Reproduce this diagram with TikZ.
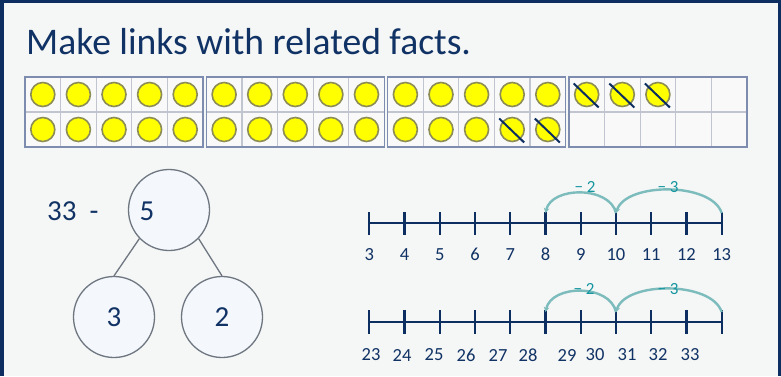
\documentclass[tikz,border=0pt]{standalone}
\usepackage{fontspec}
\setmainfont{Carlito}
\usetikzlibrary{arrows.meta}
\definecolor{navy}{RGB}{12,46,96}
\definecolor{txt}{RGB}{16,50,100}
\definecolor{bg}{RGB}{245,246,246}
\definecolor{framec}{RGB}{125,140,175}
\definecolor{gridc}{RGB}{192,197,207}
\definecolor{cellbg}{RGB}{249,249,249}
\definecolor{counterc}{RGB}{255,255,0}
\definecolor{counteredge}{RGB}{140,140,85}
\definecolor{arcc}{RGB}{125,188,188}
\definecolor{arclab}{RGB}{20,150,160}
\definecolor{pwedge}{RGB}{110,118,128}
\definecolor{pwfill}{RGB}{244,247,252}
\tikzset{
  counterstyle/.style={fill=counterc, draw=counteredge, line width=1.6pt},
  crossline/.style={draw=navy, line width=2pt},
  pw/.style={circle, draw=pwedge, fill=pwfill, line width=1.3pt, minimum size=81pt, inner sep=0pt, text=txt, font=\fontsize{29}{32}\selectfont},
  num/.style={text=txt, font=\fontsize{29}{32}\selectfont, inner sep=0pt},
  nl/.style={draw=navy, line width=2.2pt},
  nllab/.style={text=txt, font=\fontsize{18.5}{20}\selectfont, inner sep=0pt},
  jump/.style={draw=arcc, line width=2.4pt, -{Stealth[length=5pt,width=5.5pt]}},
  jumplab/.style={text=arclab, font=\fontsize{17}{19}\selectfont, inner sep=0pt},
}
\newcommand\tfcounter[2]{\filldraw[counterstyle] (#1,#2) circle (12);}
\newcommand\tfcrossed[2]{\filldraw[counterstyle] (#1,#2) circle (12);\draw[crossline] (#1-13,#2-11) -- (#1+12,#2+13);}
\begin{document}
\begin{tikzpicture}[x=1pt,y=-1pt]
\fill[bg] (0,0) rectangle (781,376);
\useasboundingbox (0,0) rectangle (781,376);
\fill[navy] (0,0) rectangle (781,3);
\fill[navy] (0,0) rectangle (3.5,376);
\fill[navy] (777.5,0) rectangle (781,376);

\node[anchor=base west, text=txt, font=\fontsize{37.6}{40}\selectfont, inner sep=0pt] (title) at (26,54) {Make links with related facts.};

% ten frames
\foreach \f in {0,1,2,3} {
  \pgfmathsetmacro\xo{25+181.3*\f}
  \fill[cellbg] (\xo,77) rectangle (\xo+178,147);
  \foreach \c in {1,2,3,4} {\draw[gridc, line width=1.2pt] (\xo+35.6*\c,77) -- (\xo+35.6*\c,147);}
  \draw[gridc, line width=1.2pt] (\xo,112) -- (\xo+178,112);
  \draw[framec, line width=1.6pt] (\xo,77) rectangle (\xo+178,147);
}
% counters
\foreach \f in {0,1} {
  \foreach \r in {0,1} {
    \foreach \c in {0,...,4} {
      \pgfmathsetmacro\cx{25+181.3*\f+35.6*(\c+0.5)}
      \pgfmathsetmacro\cy{94.5+35*\r}
      \tfcounter{\cx}{\cy}
    }
  }
}
\foreach \c in {0,...,4} {
  \pgfmathsetmacro\cx{25+181.3*2+35.6*(\c+0.5)}
  \tfcounter{\cx}{94.5}
}
\foreach \c in {0,1,2} {
  \pgfmathsetmacro\cx{25+181.3*2+35.6*(\c+0.5)}
  \tfcounter{\cx}{129.5}
}
\foreach \c in {3,4} {
  \pgfmathsetmacro\cx{25+181.3*2+35.6*(\c+0.5)}
  \tfcrossed{\cx}{129.5}
}
\foreach \c in {0,1,2} {
  \pgfmathsetmacro\cx{25+181.3*3+35.6*(\c+0.5)}
  \tfcrossed{\cx}{94.5}
}

% part-whole model
\node[pw] (whole) at (169,210) {};
\node[pw] (partA) at (114,317) {3};
\node[pw] (partB) at (222,317) {2};
\node[num] (five) at (147,211) {5};
\node[num, anchor=west] (minus) at (47,211) {33\hspace{13pt}-};
\draw[pwedge, line width=1.3pt] (whole.224) -- (partA.north);
\draw[pwedge, line width=1.3pt] (whole.316) -- (partB.north);

% number line 1
\foreach \i in {0,...,10} {
  \coordinate (a\i) at (369.3+35.24*\i,223);
  \coordinate (ua\i) at (369.3+35.24*\i,213);
  \draw[nl] (369.3+35.24*\i,212) -- (369.3+35.24*\i,235);
}
\draw[nl] (a0) -- (a10);
\foreach \i/\l in {0/3,1/4,2/5,3/6,4/7,5/8,6/9,7/10,8/11,9/12,10/13} {
  \node[nllab] (la\i) at (369.3+35.24*\i,254.5) {\l};
}
\draw[jump] (ua7) .. controls +(-6,-27) and +(6,-27) .. (ua5);
\draw[jump] (ua10) .. controls +(-10,-31) and +(10,-31) .. (ua7);
\node[jumplab] (ja1) at (585,187) {− 2};
\node[jumplab] (ja2) at (668,187) {− 3};

% number line 2
\foreach \i in {0,...,10} {
  \coordinate (b\i) at (369.3+35.24*\i,322);
  \coordinate (ub\i) at (369.3+35.24*\i,312);
  \draw[nl] (369.3+35.24*\i,310) -- (369.3+35.24*\i,334);
}
\draw[nl] (b0) -- (b10);
\foreach \x/\l [count=\k] in {371/23,402/24,434/25,466/26,498/27,528/28,567/29,595/30,627/31,658/32,690/33} {
  \node[nllab] (lb\k) at (\x,355) {\l};
}
\draw[jump] (ub7) .. controls +(-6,-28) and +(6,-28) .. (ub5);
\draw[jump] (ub10) .. controls +(-10,-31) and +(10,-31) .. (ub7);
\node[jumplab] (jb1) at (584,289) {− 2};
\node[jumplab] (jb2) at (668,289) {− 3};
\end{tikzpicture}
\end{document}
